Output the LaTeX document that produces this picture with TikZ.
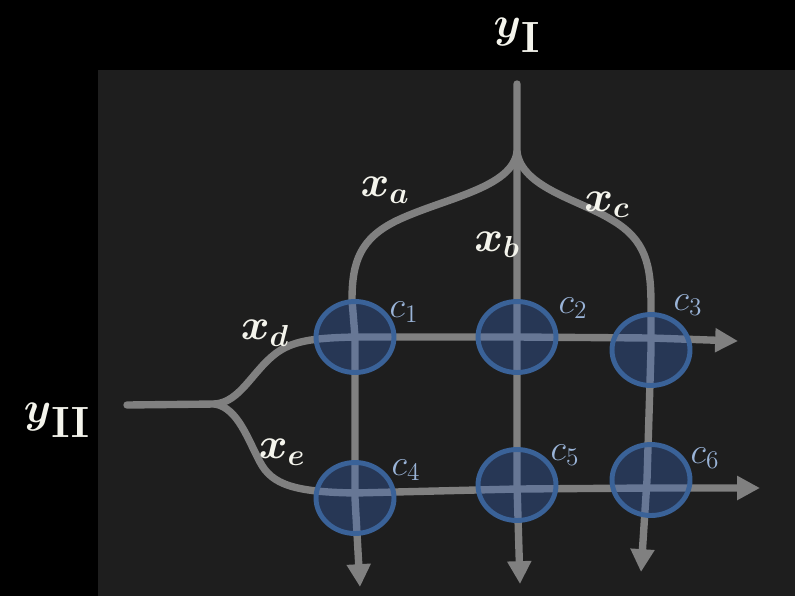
\documentclass[tikz,border=0pt]{standalone}
\usepackage{amsmath}
\usepackage{xcolor}
\usepackage{tikz}
\usetikzlibrary{calc,arrows.meta,shapes.geometric}
\definecolor{inkbg}{HTML}{000000}
\definecolor{panelx}{HTML}{1E1E1E}
\definecolor{wirex}{HTML}{808080}
\definecolor{ringx}{HTML}{3A6298}
\definecolor{ringfill}{HTML}{3A68BE}
\definecolor{tagx}{HTML}{9AB4D8}
\definecolor{chalkx}{HTML}{F4F4EC}
\pgfdeclarelayer{back}
\pgfsetlayers{back,main}
\tikzset{
  wire/.style={line width=4.2pt,wirex,line cap=round},
  wa/.style={wire,-{Triangle[length=13pt,width=13pt]}},
  cell/.style={ellipse,draw=ringx,line width=2.8pt,fill=ringfill,fill opacity=0.35,minimum width=1.56cm,minimum height=1.42cm,inner sep=0pt},
  tg/.style={tagx,font=\fontsize{21}{24}\selectfont},
  vr/.style={chalkx,font=\fontsize{27}{30}\selectfont},
  big/.style={chalkx,font=\fontsize{40}{44}\selectfont}
}

\begin{document}
\begin{tikzpicture}[x=0.02cm,y=-0.02cm]
\useasboundingbox (0,0) rectangle (795,596);
\begin{pgfonlayer}{back}
\fill[inkbg] (0,0) rectangle (795,596);
\fill[panelx] (98,70) rectangle (795,596);
\end{pgfonlayer}
\node[cell] (c1) at (355,337) {};
\node[cell] (c2) at (517,337) {};
\node[cell] (c3) at (651,350) {};
\node[cell] (c4) at (355,498) {};
\node[cell] (c5) at (517,485) {};
\node[cell] (c6) at (651,480) {};
\coordinate (tI) at (517,84);
\coordinate (sI) at (517,152);
\coordinate (tII) at (127,405);
\coordinate (sII) at (215,404);
\coordinate (ea) at (360,587);
\coordinate (eb) at (520,584);
\coordinate (ec) at (641,572);
\coordinate (ed) at (738,341);
\coordinate (ee) at (760,488);
\begin{pgfonlayer}{back}
\draw[wa] (tI) -- (sI) -- (c2.center) -- (c5.center) -- (eb);
\draw[wa] (sI) .. controls (512,188) and (445,198) .. (398,220) .. controls (360,238) and (352,262) .. (352,300) -- (c1.center) -- (c4.center) -- (ea);
\draw[wa] (sI) .. controls (522,188) and (580,200) .. (612,220) .. controls (646,240) and (651,265) .. (651,305) -- (c3.center) -- ($(c6.center)+(-4,0)$) -- (ec);
\draw[wire] (tII) -- (sII);
\draw[wa] (sII) .. controls (240,402) and (252,372) .. (275,354) .. controls (292,341) and (312,338) .. (c1.center) -- (c2.center) -- ($(c3.center)+(0,-12)$) -- (ed);
\draw[wa] (sII) .. controls (238,408) and (248,440) .. (260,462) .. controls (272,485) and (295,492) .. ($(c4.center)+(0,-5)$) -- ($(c5.center)+(0,4)$) -- ($(c6.center)+(0,8)$) -- (ee);
\end{pgfonlayer}
\node[big] (lyI) at (517,35) {$\boldsymbol{y}_{\mathbf{I}}$};
\node[big] (lyII) at (57,420) {$\boldsymbol{y}_{\mathbf{II}}$};
\node[vr] (la) at (385,190) {$\boldsymbol{x_a}$};
\node[vr] (lb) at (497,245) {$\boldsymbol{x_b}$};
\node[vr] (lc) at (607,205) {$\boldsymbol{x_c}$};
\node[vr] (ld) at (265,333) {$\boldsymbol{x_d}$};
\node[vr] (le) at (282,452) {$\boldsymbol{x_e}$};
\node[tg] (t1) at (404,312) {$c_1$};
\node[tg] (t2) at (573,308) {$c_2$};
\node[tg] (t3) at (688,305) {$c_3$};
\node[tg] (t4) at (406,470) {$c_4$};
\node[tg] (t5) at (565,455) {$c_5$};
\node[tg] (t6) at (705,458) {$c_6$};
\end{tikzpicture}
\end{document}
